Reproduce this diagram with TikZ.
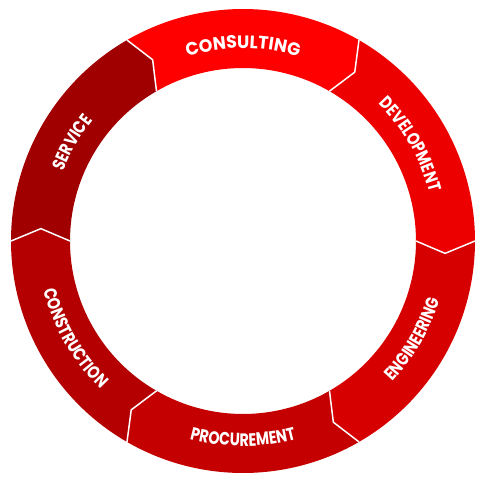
\documentclass[tikz,border=0pt]{standalone}
\usepackage{fontspec}
\usetikzlibrary{decorations.text}
\newfontfamily\ringfam{Poppins}[FakeStretch=0.8]
\newfontfamily\ringwidefam{Poppins}[FakeStretch=0.97]
\newcommand\segfont{\ringfam\bfseries\fontsize{10.2pt}{12pt}\selectfont\color{white}}
\newcommand\segwidefont{\ringwidefam\bfseries\fontsize{10.2pt}{12pt}\selectfont\color{white}}
\definecolor{service}{RGB}{160,0,0}
\definecolor{consult}{RGB}{255,0,0}
\definecolor{develop}{RGB}{236,0,0}
\definecolor{engin}{RGB}{214,0,0}
\definecolor{procure}{RGB}{196,0,0}
\definecolor{construct}{RGB}{180,0,0}

\begin{document}
\begin{tikzpicture}[x=0.02cm,y=0.02cm,
  sepline/.style={white,line width=0.85pt,line join=miter},
  ringtext/.style={decorate,decoration={text along path,text align=center}}]
\useasboundingbox (-243,-244) rectangle (242,241);
% segments, clockwise from the left
\foreach \a/\col in {180/service,120/consult,60/develop,0/engin,-60/procure,-120/construct}
  \fill[\col] (\a:232) arc[start angle=\a,delta angle=-60,radius=232]
     -- (\a-63.5:202.5) -- (\a-60:173)
     arc[start angle=\a-60,delta angle=60,radius=173]
     -- (\a-3.5:202.5) -- cycle;
% white chevron borders
\foreach \a in {0,60,...,300}
  \draw[sepline] (\a:232) -- (\a-3.5:202.5) -- (\a:173);
% labels, upper half read clockwise
\path[ringtext,decoration={text={|\segfont|SERVICE}}]
  (175:192.7) arc[start angle=175,end angle=125,radius=192.7];
\path[ringtext,decoration={text={|\segwidefont|CONSULTING}}]
  (115:192.7) arc[start angle=115,end angle=65,radius=192.7];
\path[ringtext,decoration={text={|\segfont|DEVELOPMENT}}]
  (55:192.7) arc[start angle=55,end angle=5,radius=192.7];
% lower half read counterclockwise
\path[ringtext,decoration={text={|\segfont|ENGINEERING}}]
  (-55:205.3) arc[start angle=-55,end angle=-5,radius=205.3];
\path[ringtext,decoration={text={|\segfont|PROCUREMENT}}]
  (-115:205.3) arc[start angle=-115,end angle=-65,radius=205.3];
\path[ringtext,decoration={text={|\segfont|CONSTRUCTION}}]
  (185:205.3) arc[start angle=185,end angle=235,radius=205.3];
\end{tikzpicture}
\end{document}
